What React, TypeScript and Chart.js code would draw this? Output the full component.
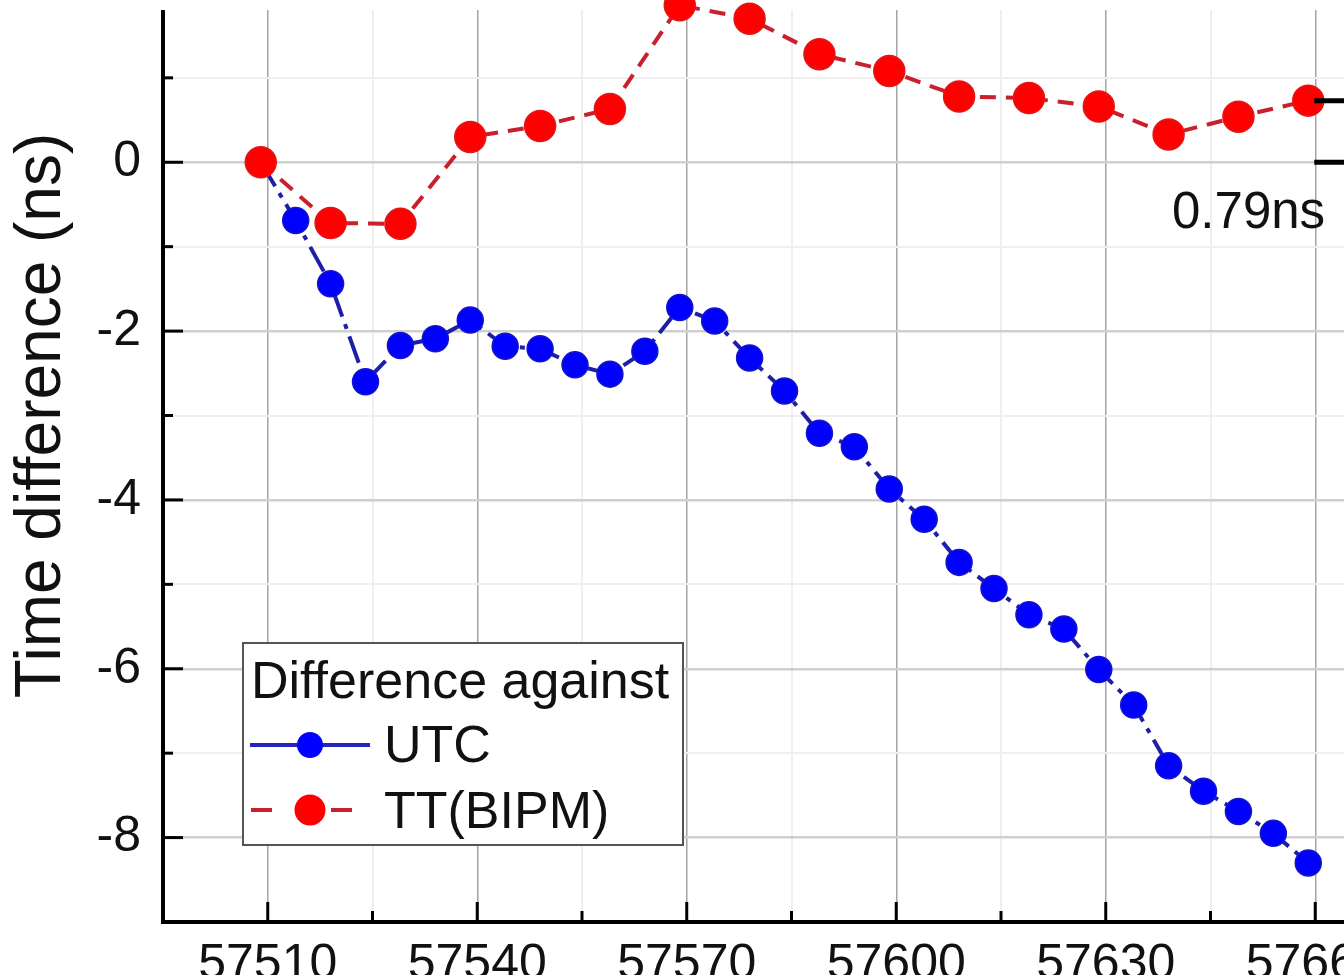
import React, { useEffect, useRef } from "react";
import { Chart, registerables } from "chart.js";

Chart.register(...registerables);

// ---------- data ----------
const utcMjd = [
  57509, 57514, 57519, 57524, 57529, 57534, 57539, 57544, 57549, 57554, 57559,
  57564, 57569, 57574, 57579, 57584, 57589, 57594, 57599, 57604, 57609, 57614,
  57619, 57624, 57629, 57634, 57639, 57644, 57649, 57654, 57659,
];
const utcValues = [
  0, -0.69, -1.44, -2.6, -2.17, -2.09, -1.87, -2.18, -2.21, -2.4, -2.51,
  -2.24, -1.72, -1.88, -2.32, -2.71, -3.21, -3.37, -3.87, -4.23, -4.74, -5.05,
  -5.36, -5.53, -6.01, -6.43, -7.15, -7.45, -7.69, -7.95, -8.3,
];
const ttMjd = [
  57509, 57519, 57529, 57539, 57549, 57559, 57569, 57579, 57589, 57599, 57609,
  57619, 57629, 57639, 57649, 57659,
];
const ttValues = [
  0, -0.72, -0.73, 0.3, 0.43, 0.63, 1.86, 1.7, 1.28, 1.08, 0.78, 0.76, 0.66,
  0.33, 0.54, 0.73,
];
const xTickLabels = [57510, 57540, 57570, 57600, 57630, 57660];
const yTickLabels = [-8, -6, -4, -2, 0, 2];
const seriesNames = ["UTC", "TT(BIPM)"];
const legendTitle = "Difference against";
const yAxisTitle = "Time difference (ns)";
const annotationText = "0.79ns";

// ---------- styling ----------
const FONT = "'Liberation Sans', Arial, Helvetica, sans-serif";
const CANVAS_W = 1500;
const CANVAS_H = 1165;
const OFFSET_Y = 143; // canvas is shifted up by this many px (crop of a taller figure)
const BLUE_LINE = "#1e1ea8";
const BLUE_FILL = "#0000ff";
const RED_LINE = "#c8202c";
const RED_FILL = "#ff0000";

const isMajorX = (v: number) => xTickLabels.includes(v);
const isMajorY = (v: number) => yTickLabels.includes(v);

const cropPlugin = {
  id: "cropStrip",
  beforeDatasetsDraw(chart: any) {
    const { ctx } = chart;
    ctx.save();
    ctx.fillStyle = "#ffffff";
    ctx.fillRect(0, 0, chart.width, OFFSET_Y + 10);
    ctx.restore();
  },
};

const innerTicksPlugin = {
  id: "innerTicks",
  afterDatasetsDraw(chart: any) {
    const { ctx, chartArea, scales } = chart;
    ctx.save();
    ctx.strokeStyle = "#000";
    ctx.lineWidth = 3;
    scales.y.ticks.forEach((t: any) => {
      const y = scales.y.getPixelForValue(t.value);
      if (y < OFFSET_Y + 10) return;
      const len = isMajorY(t.value) ? 20 : 10;
      ctx.beginPath();
      ctx.moveTo(chartArea.left, y);
      ctx.lineTo(chartArea.left + len, y);
      ctx.stroke();
    });
    scales.x.ticks.forEach((t: any) => {
      const x = scales.x.getPixelForValue(t.value);
      const len = isMajorX(t.value) ? 20 : 11;
      ctx.beginPath();
      ctx.moveTo(x, chartArea.bottom);
      ctx.lineTo(x, chartArea.bottom - len);
      ctx.stroke();
    });
    ctx.restore();
  },
};

const overlayPlugin = {
  id: "overlay",
  afterDraw(chart: any) {
    const { ctx, scales } = chart;
    const py = (v: number) => v + OFFSET_Y;
    ctx.save();

    // ----- annotation bracket -----
    const last = ttMjd.length - 1;
    const xStart = scales.x.getPixelForValue(ttMjd[last]) + 6;
    const yTop = scales.y.getPixelForValue(ttValues[last]);
    const yZero = scales.y.getPixelForValue(0);
    ctx.strokeStyle = "#000";
    ctx.lineWidth = 5;
    ctx.beginPath();
    ctx.moveTo(xStart, yTop);
    ctx.lineTo(xStart + 80, yTop);
    ctx.moveTo(xStart, yZero);
    ctx.lineTo(xStart + 80, yZero);
    ctx.stroke();
    ctx.fillStyle = "#111";
    ctx.font = `51px ${FONT}`;
    ctx.textAlign = "left";
    ctx.textBaseline = "alphabetic";
    ctx.fillText(annotationText, 1172, py(228));

    // ----- legend -----
    const bx = 243, by = py(643), bw = 440, bh = 202;
    ctx.fillStyle = "#ffffff";
    ctx.fillRect(bx, by, bw, bh);
    ctx.strokeStyle = "#555";
    ctx.lineWidth = 2;
    ctx.strokeRect(bx, by, bw, bh);

    ctx.fillStyle = "#111";
    ctx.font = `52px ${FONT}`;
    ctx.fillText(legendTitle, 251, py(698));

    // UTC row
    const r1 = py(745);
    ctx.strokeStyle = "#2424c0";
    ctx.lineWidth = 4;
    ctx.beginPath();
    ctx.moveTo(250, r1);
    ctx.lineTo(370, r1);
    ctx.stroke();
    ctx.fillStyle = BLUE_FILL;
    ctx.beginPath();
    ctx.arc(310, r1, 13, 0, Math.PI * 2);
    ctx.fill();
    ctx.fillStyle = "#111";
    ctx.fillText(seriesNames[0], 384, py(762));

    // TT row
    const r2 = py(810);
    ctx.strokeStyle = RED_LINE;
    ctx.lineWidth = 4;
    ctx.beginPath();
    ctx.moveTo(251, r2);
    ctx.lineTo(272, r2);
    ctx.moveTo(331, r2);
    ctx.lineTo(352, r2);
    ctx.stroke();
    ctx.fillStyle = RED_FILL;
    ctx.beginPath();
    ctx.arc(310, r2, 15.5, 0, Math.PI * 2);
    ctx.fill();
    ctx.fillStyle = "#111";
    ctx.fillText(seriesNames[1], 384, py(828));

    ctx.restore();
  },
};

export default function App() {
  const ref = useRef<HTMLCanvasElement>(null);

  useEffect(() => {
    const canvas = ref.current;
    if (!canvas) return;
    const chart = new Chart(canvas, {
      type: "line",
      data: {
        datasets: [
          {
            label: seriesNames[1],
            data: ttMjd.map((x, i) => ({ x, y: ttValues[i] })),
            borderColor: RED_LINE,
            borderWidth: 4,
            borderDash: [16, 10],
            pointRadius: 15.5,
            pointBackgroundColor: RED_FILL,
            pointBorderColor: "#e01818",
            pointBorderWidth: 1.5,
            tension: 0,
            clip: false as any,
          },
          {
            label: seriesNames[0],
            data: utcMjd.map((x, i) => ({ x, y: utcValues[i] })),
            borderColor: BLUE_LINE,
            borderWidth: 4,
            borderDash: [28, 8, 5, 8],
            pointRadius: 13,
            pointBackgroundColor: BLUE_FILL,
            pointBorderColor: "#1414c8",
            pointBorderWidth: 1.5,
            tension: 0,
            clip: false as any,
          },
        ],
      },
      options: {
        responsive: false,
        animation: false,
        devicePixelRatio: 1,
        events: [],
        layout: { padding: { top: 10, left: 0, right: 80, bottom: 0 } },
        plugins: {
          legend: { display: false },
          tooltip: { enabled: false },
        },
        scales: {
          x: {
            type: "linear",
            min: 57495,
            max: 57675,
            afterFit: (scale: any) => {
              scale.height = 100;
            },
            ticks: {
              stepSize: 15,
              autoSkip: false,
              maxRotation: 0,
              padding: 13,
              color: "#111",
              font: { family: FONT, size: 50 },
              callback: (v: any) => (isMajorX(Number(v)) ? String(v) : ""),
            },
            grid: {
              drawTicks: false,
              color: (c: any) => (isMajorX(c.tick.value) ? "#a4a4a4" : "#efefef"),
              lineWidth: (c: any) => (isMajorX(c.tick.value) ? 1.5 : 2),
            },
            border: { display: true, color: "#000", width: 4 },
          },
          y: {
            type: "linear",
            min: -9,
            max: 3,
            afterFit: (scale: any) => {
              scale.width = 163;
            },
            ticks: {
              stepSize: 1,
              autoSkip: false,
              padding: 22,
              color: "#111",
              font: { family: FONT, size: 50 },
              callback: (v: any) => (isMajorY(Number(v)) ? String(v) : ""),
            },
            grid: {
              drawTicks: false,
              color: (c: any) => (isMajorY(c.tick.value) ? "#cfcfcf" : "#efefef"),
              lineWidth: (c: any) => (isMajorY(c.tick.value) ? 2.5 : 2),
            },
            border: { display: true, color: "#000", width: 4 },
            title: {
              display: true,
              text: yAxisTitle,
              color: "#111",
              font: { family: FONT, size: 64 },
              padding: { top: 4, bottom: 4 },
            },
          },
        },
      },
      plugins: [cropPlugin, innerTicksPlugin, overlayPlugin],
    });
    return () => chart.destroy();
  }, []);

  return (
    <div
      style={{
        position: "fixed",
        left: 0,
        top: 0,
        width: 1344,
        height: 975,
        overflow: "hidden",
        background: "#ffffff",
      }}
    >
      <canvas
        ref={ref}
        width={CANVAS_W}
        height={CANVAS_H}
        style={{
          position: "absolute",
          left: 0,
          top: -OFFSET_Y,
          width: CANVAS_W,
          height: CANVAS_H,
        }}
      />
    </div>
  );
}
